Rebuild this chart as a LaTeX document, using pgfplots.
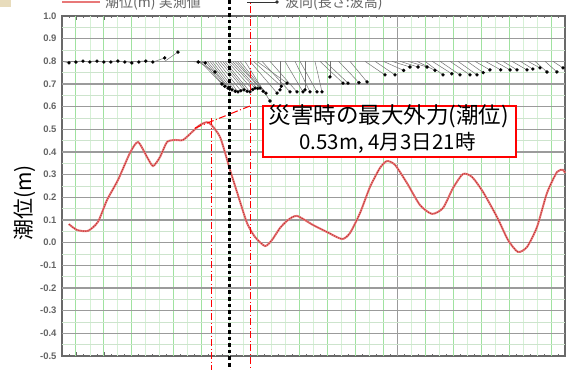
\documentclass[border=0pt]{standalone}
\usepackage{fontspec}
\setmainfont{Liberation Sans}
\newfontfamily\jp{Noto Sans CJK JP}
\usepackage{pgfplots}
\pgfplotsset{compat=1.18}
\usepackage{pgfplotstable}

\definecolor{tidered}{RGB}{232,120,120}
\definecolor{tidedot}{RGB}{185,45,45}
\definecolor{gridgreen}{RGB}{160,226,160}
\definecolor{gridgreenlt}{RGB}{214,241,214}
\definecolor{gridgray}{RGB}{155,155,155}
\definecolor{gridminor}{RGB}{205,228,205}
\definecolor{axisgray}{RGB}{105,105,105}
\definecolor{labelgray}{RGB}{100,100,100}
\definecolor{beige}{RGB}{232,220,188}

% observed tide (hours from 4/3 0:00, metres)
\pgfplotstableread{
h v
0.98 0.082
2.15 0.056
3.72 0.052
5.15 0.092
6.44 0.188
8.02 0.277
9.73 0.396
10.88 0.444
12.17 0.378
13.03 0.338
14.03 0.378
15.03 0.444
16.17 0.453
17.32 0.453
18.61 0.488
19.75 0.519
21.00 0.530
22.62 0.466
24.05 0.321
25.19 0.210
26.48 0.087
27.63 0.025
29.06 -0.015
30.06 0.012
31.21 0.065
32.35 0.100
33.64 0.118
35.93 0.078
37.93 0.047
40.08 0.016
41.23 0.043
42.66 0.131
44.09 0.246
45.52 0.330
46.52 0.360
47.67 0.343
49.38 0.263
51.24 0.166
52.96 0.127
54.54 0.153
55.97 0.241
57.40 0.303
58.69 0.290
60.26 0.224
62.27 0.113
63.84 0.012
65.27 -0.041
66.56 -0.019
67.99 0.069
69.42 0.219
70.86 0.312
71.71 0.321
72.00 0.307
}\tide

% wave direction sticks: start time, tip time, tip level (base at 0.8)
\pgfplotstableread{
t te ve
0.0 1.0 0.793
1.0 2.0 0.797
2.0 3.0 0.801
3.0 4.0 0.797
4.0 5.0 0.801
5.0 6.0 0.797
6.0 7.0 0.797
7.0 8.0 0.801
8.0 9.0 0.797
9.0 10.0 0.793
10.0 11.0 0.797
11.0 12.0 0.801
12.0 13.0 0.797
13.3 14.7 0.815
14.7 16.6 0.841
18.0 19.5 0.797
18.8 20.5 0.793
19.4 21.90 0.753
19.75 22.90 0.700
20.1 23.3 0.690
20.47 23.76 0.682
20.8 24.0 0.678
21.18 24.33 0.674
21.5 24.8 0.668
21.90 25.19 0.665
22.25 25.6 0.670
22.62 26.05 0.674
23.0 26.5 0.668
23.33 26.91 0.665
23.7 27.3 0.675
24.05 27.63 0.682
24.4 28.0 0.680
24.76 28.34 0.682
25.1 28.8 0.668
25.48 29.20 0.660
26.19 29.77 0.625
26.91 30.78 0.660
27.4 31.4 0.690
27.91 32.21 0.704
28.63 32.64 0.665
29.77 33.64 0.665
31.20 31.20 0.674
31.92 34.50 0.665
33.35 35.50 0.665
34.07 36.50 0.665
34.78 34.78 0.674
36.21 37.22 0.665
36.93 40.22 0.704
37.65 40.94 0.704
38.36 38.36 0.731
39.6 42.5 0.706
41.22 43.66 0.709
43.37 46.23 0.740
44.80 47.67 0.740
46.0 48.9 0.760
47.24 49.81 0.775
48.38 50.96 0.775
49.53 52.25 0.775
50.8 53.4 0.760
51.96 54.54 0.740
53.0 55.8 0.745
54.11 56.97 0.740
55.54 58.40 0.740
56.68 59.40 0.740
58.0 60.3 0.750
59.12 61.26 0.762
60.6 62.8 0.762
61.98 64.13 0.762
63.12 65.13 0.762
64.41 66.56 0.762
65.6 67.4 0.766
66.70 68.42 0.771
67.71 69.42 0.753
69.14 70.85 0.753
70.28 71.71 0.771
}\waves

\begin{document}
\begin{tikzpicture}[x=1pt,y=1pt]
\useasboundingbox (0,0) rectangle (572,369);
\clip (0,0) rectangle (572,369);
\fill[beige] (0,362) rectangle (11,369);

% legend row
\draw[tidered, line width=2pt] (62,367) -- (100,367);
\node[anchor=base west, inner sep=0pt, text=labelgray,
      font=\jp\fontsize{14}{14}\selectfont] at (105,361) {潮位(m) 実測値};
\draw[black!80, line width=0.8pt] (247,367) -- (276,367);
\fill[black!80] (277,367) circle (1.8);
\node[anchor=base west, inner sep=0pt, text=labelgray,
      font=\jp\fontsize{14}{14}\selectfont] at (285,361) {波向(長さ:波高)};

\begin{axis}[
  at={(62pt,126.33pt)}, anchor=origin,
  width=503pt, height=340pt, scale only axis,
  xmin=0, xmax=72, ymin=-0.5, ymax=1.0,
  xtick={0,2,...,72}, xticklabels={},
  minor x tick num=1,
  ytick={-0.5,-0.4,-0.3,-0.2,-0.1,0,0.1,0.2,0.3,0.4,0.5,0.6,0.7,0.8,0.9,1.0},
  minor y tick num=1,
  tick pos=both, tick align=inside,
  major tick length=4pt, minor tick length=2.5pt,
  tick style={axisgray, line width=0.8pt},
  axis line style={axisgray, line width=1.1pt},
  /pgf/number format/fixed,
  /pgf/number format/fixed zerofill,
  /pgf/number format/precision=1,
  /pgf/number format/assume math mode=true,
  yticklabel style={font=\bfseries\fontsize{9.5}{9.5}\selectfont, text=labelgray, xshift=-2pt},
  ylabel={潮位(m)},
  ylabel style={at={(axis description cs:-0.075,0.45)}, anchor=center,
                font=\jp\fontsize{21}{21}\selectfont},
  clip=false,
]
% vertical grid: faint every 2 h, stronger on the 4-hourly lines, grey at day change
\pgfplotsinvokeforeach{4,8,12,14,18,22,24,26,30,32,36,40,44,48,50,54,58,62,66,68}{
  \draw[gridgreenlt, line width=0.8pt] (axis cs:#1,-0.5) -- (axis cs:#1,1.0);}
\pgfplotsinvokeforeach{2,6,10,16,20,28,34,38,42,46,52,56,60,64,70}{
  \draw[gridgreen, line width=1pt] (axis cs:#1,-0.5) -- (axis cs:#1,1.0);}
\draw[gridgray, line width=1pt] (axis cs:48,-0.5) -- (axis cs:48,1.0);
% horizontal grid
\pgfplotsinvokeforeach{-0.45,-0.35,-0.25,-0.15,-0.05,0.05,0.15,0.25,0.35,0.45,0.55,0.65,0.75,0.85,0.95}{
  \draw[gridminor, line width=0.8pt] (axis cs:0,#1) -- (axis cs:72,#1);}
\pgfplotsinvokeforeach{-0.4,-0.3,-0.2,-0.1,0,0.1,0.2,0.3,0.4,0.5,0.6,0.7,0.8,0.9}{
  \draw[gridgray, line width=1.3pt] (axis cs:0,#1) -- (axis cs:72,#1);}

% tide
\addplot[tidered, line width=2pt, smooth, tension=0.4] table[x=h, y=v] {\tide};
\addplot[tidedot, line width=0.9pt, dash pattern=on 1pt off 1.3pt, smooth, tension=0.4]
  table[x=h, y=v] {\tide};

% wave direction sticks
\addplot[black!55, line width=0.5pt,
  quiver={u=\thisrow{te}-\thisrow{t}, v=\thisrow{ve}-0.8}]
  table[x=t, y expr=0.8] {\waves};
\addplot[only marks, mark=*, mark size=1.5pt, black] table[x=te, y=ve] {\waves};

% event markers
\draw[red, line width=1pt, dash pattern=on 7pt off 2.5pt on 1pt off 2.5pt]
  (axis cs:21.4,0.55) -- (axis cs:21.4,-0.6);
\draw[red, line width=1pt, dash pattern=on 7pt off 2.5pt on 1pt off 2.5pt]
  (axis cs:27.05,1.1) -- (axis cs:27.05,-0.6);
\draw[red, line width=1pt, dash pattern=on 7pt off 2.5pt on 1pt off 2.5pt]
  (axis cs:19.04,0.506) -- (axis cs:26.91,0.603);
\draw[black, line width=3.6pt, dash pattern=on 3.6pt off 3pt]
  (axis cs:24,1.1) -- (axis cs:24,-0.6);

% annotation
\draw[red, line width=1.2pt, fill=white] (axis cs:28.77,0.603) rectangle (axis cs:64.99,0.378);
\node[font=\jp\fontsize{22.5}{22.5}\selectfont] at (axis cs:46.8,0.556) {災害時の最大外力(潮位)};
\node[font=\jp\fontsize{20.5}{20.5}\selectfont] at (axis cs:46.6,0.440) {0.53m, 4月3日21時};
\end{axis}
\end{tikzpicture}
\end{document}
